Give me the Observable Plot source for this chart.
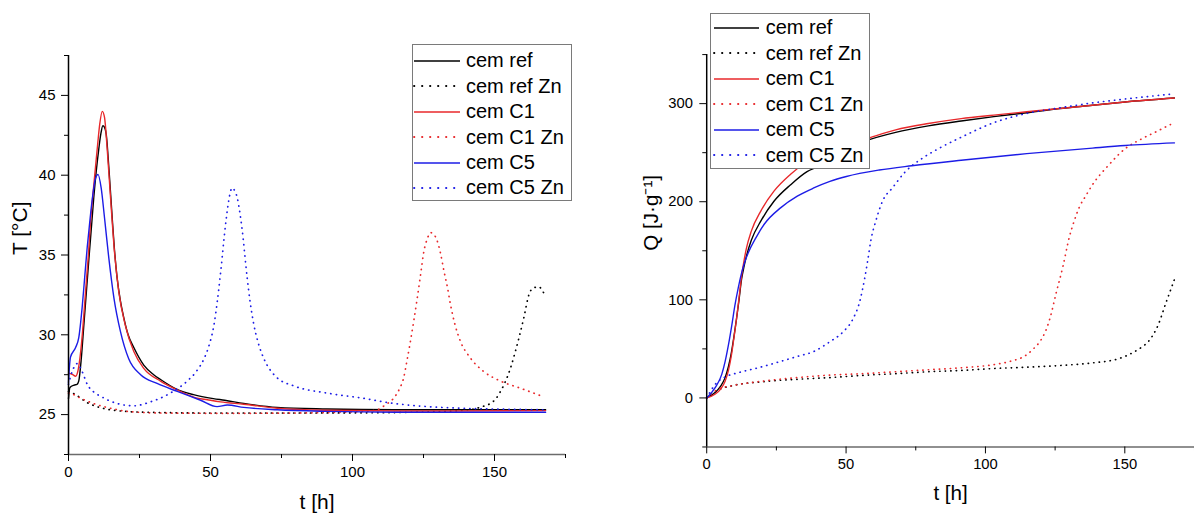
<!DOCTYPE html>
<html>
<head>
<meta charset="utf-8">
<script src="https://cdn.jsdelivr.net/npm/d3@7"></script>
<script src="https://cdn.jsdelivr.net/npm/@observablehq/plot@0.6"></script>
<style>
  html, body { margin: 0; padding: 0; background: #fff; overflow: hidden; }
  #wrap { position: relative; width: 1194px; height: 520px; overflow: hidden; background: #fff;
          font-family: 'Liberation Sans', Arial, sans-serif; }
  .panel { position: absolute; top: 0; }
  .legend { position: absolute; box-sizing: border-box; border: 1px solid #7a7a7a; background: #fff; }
  .legend .row { display: flex; align-items: center; font-size: 20px; color: #000; white-space: nowrap; }
  .legend svg { display: block; flex: none; }
</style>
</head>
<body>
<div id="wrap">
  <div class="panel" id="left" style="left:0"></div>
  <div class="panel" id="right" style="left:600px"></div>
</div>
<script>
// ---------- data ----------
const seriesNames = ["cem ref", "cem ref Zn", "cem C1", "cem C1 Zn", "cem C5", "cem C5 Zn"];
const seriesColors = ["#000000", "#000000", "#e8282b", "#e8282b", "#1c1ce6", "#1c1ce6"];
const seriesDotted = [false, true, false, true, false, true];

const xTitle = "t [h]";
const TTitle = "T [°C]";
const QTitle = "Q [J·g⁻¹]";

const tDomain = [0, 175];
const TDomain = [22.5, 47.5];
const QDomain = [-50, 350];
const xTicks = [0, 50, 100, 150];
const xMinor = [25, 75, 125, 175];
const TTicks = [25, 30, 35, 40, 45];
const TMinor = [22.5, 27.5, 32.5, 37.5, 42.5, 47.5];
const QTicks = [0, 100, 200, 300];
const QMinor = [-50, 50, 150, 250, 350];

// Temperature T [°C] vs t [h]  ([t, T])
const T_cemRef = [[0,26.0],[0.5,26.7],[2,26.85],[3,26.9],[3.6,27.1],[4.5,28.5],[5.4,30.6],[6.3,32.7],[7.2,34.8],[8.1,36.8],[8.9,38.6],[9.8,40.3],[10.7,41.7],[11.4,42.6],[12.1,43.1],[12.7,43.0],[13.3,42.55],[14.2,40.5],[15.4,37.3],[16.2,35.3],[17.1,33.6],[18.2,32.2],[19.5,31.05],[21,30.0],[23,29.2],[26.5,28.1],[30,27.5],[32.4,27.2],[38,26.6],[44,26.25],[51,26.0],[55,25.9],[61.7,25.7],[73.5,25.45],[91,25.35],[115,25.3],[140,25.3],[168,25.3]];
const T_cemRefZn = [[0,26.45],[2,26.3],[6.6,25.75],[10,25.5],[14.8,25.3],[20,25.2],[26.5,25.15],[50,25.1],[80,25.1],[110,25.12],[126,25.17],[138,25.25],[143.9,25.4],[146.5,25.55],[148.6,25.7],[150.5,26.0],[152.1,26.45],[153.9,27.1],[155.6,27.9],[157.1,28.8],[158.6,29.8],[160.3,31.05],[162.1,32.5],[163.8,32.95],[165.6,33.0],[167.4,32.6]];
const T_cemC1 = [[0,27.6],[1.5,27.5],[2.5,27.4],[3.4,27.8],[4.2,28.8],[5,30.3],[6,32.7],[7,35],[7.7,36.9],[8.6,38.8],[9.5,40.5],[10.3,42],[11,43.2],[11.9,44.0],[12.7,43.6],[13.6,41.7],[14.8,38.6],[16,35.6],[17.7,32.7],[20,30.6],[23,28.95],[26.5,27.9],[32.4,27.1],[38.3,26.55],[44.1,26.1],[50,25.9],[53.5,25.8],[61.7,25.65],[73.5,25.4],[91,25.27],[115,25.23],[138,25.23],[168,25.25]];
const T_cemC1Zn = [[0,26.35],[1.9,26.25],[4,26.05],[6.6,25.85],[9.5,25.65],[12.4,25.5],[16,25.35],[20.7,25.2],[32.4,25.1],[55.9,25.08],[79.3,25.1],[97,25.15],[104,25.2],[108.7,25.3],[111.5,25.6],[114.6,26.05],[116.5,26.6],[118,27.3],[119.2,28.4],[120.4,29.6],[121.6,30.9],[122.8,32.3],[124,33.8],[125.1,35.2],[126.3,36.0],[127.5,36.4],[128.6,36.3],[129.8,35.9],[131,35.1],[132.2,34.0],[133.4,33.0],[134.5,31.9],[136,30.7],[138,29.6],[141.5,28.55],[146.2,27.7],[152.1,27.1],[159.2,26.65],[166,26.2]];
const T_cemC5 = [[0,27.0],[0.3,27.9],[0.7,28.6],[2.5,29.2],[3.6,29.8],[4.8,31.7],[5.7,33.6],[6.6,35.5],[7.5,37.1],[8.3,38.4],[9.5,39.8],[10.4,40.05],[11.5,39.2],[12.7,37.3],[14.2,34.8],[16,32.3],[18.3,30.2],[21.2,28.5],[25.4,27.5],[31.2,26.95],[38.3,26.45],[46.5,25.9],[52.3,25.5],[55.9,25.6],[61.7,25.45],[73.5,25.3],[91,25.2],[115,25.15],[168,25.15]];
const T_cemC5Zn = [[0,26.9],[1.5,27.8],[3.1,28.2],[4.8,27.7],[6.6,26.9],[9,26.4],[11.3,26.15],[14,25.9],[17.1,25.7],[23,25.55],[28.9,25.8],[35.9,26.35],[41.8,27.1],[45,27.7],[47.7,28.5],[49.6,29.4],[51.2,30.6],[52.4,32.1],[53.5,33.8],[55.3,36.9],[56.4,38.4],[57.6,39.2],[58.6,39.0],[59.4,38.6],[60.3,37.7],[61.2,36.5],[62.9,33.6],[64,32],[65.3,30.6],[66.8,29.5],[68.8,28.5],[71,27.8],[73.5,27.3],[79.3,26.8],[91,26.35],[102.8,26.05],[114.6,25.7],[126.3,25.5],[138,25.4],[149.8,25.35],[168,25.3]];

// Heat Q [J/g] vs t [h]  ([t, Q])
const Q_cemRef = [[0,0],[3.1,5.7],[5,12],[6.6,20.7],[7.8,32],[8.9,47],[9.8,63],[10.7,80.7],[11.6,100],[12.5,120.7],[13.4,134],[14.2,144],[16,160.7],[19.5,180.7],[24.2,200.7],[30.1,217.3],[36,230.7],[40,236],[48,251],[57,262],[67.8,270.7],[79.5,277.3],[91.3,282.3],[103,286.7],[114.8,290.7],[126.6,295],[138.4,298.3],[150.1,301.7],[167.8,305.7]];
const Q_cemRefZn = [[0,0],[4,8],[8.9,12.3],[20.7,16.7],[32.5,19],[44.2,20.7],[56,23],[67.8,24.7],[79.5,26.7],[91.3,28],[103.1,30],[114.8,31.3],[126.6,33],[138.4,35.7],[147.8,40],[153.6,47.3],[156.2,52],[158.4,57.3],[160.3,65],[161.9,74],[164.8,97.3],[167.8,120.7]];
const Q_cemC1 = [[0,0],[3.1,4],[5,9],[6.6,17],[7.8,28],[8.9,44],[9.8,62],[10.7,80.7],[11.6,102],[12.5,124],[13.4,140],[14.2,152],[16,170],[19.5,191],[24.2,211],[30.1,228],[36,241],[45,254],[57,264],[67.8,273.3],[79.5,279.7],[91.3,284.7],[103,288.3],[114.8,291.7],[126.6,295],[138.4,298.3],[150.1,301.7],[167.8,305.7]];
const Q_cemC1Zn = [[0,0],[4.2,9],[8.9,12.3],[20.7,17.3],[32.5,20.7],[44.2,23.3],[56,24.7],[67.8,26.7],[79.5,28.7],[91.3,30.7],[103.1,34],[108.9,37.3],[114.8,44],[117.2,50],[119.5,57.3],[121.4,67],[123.1,80.7],[125.4,107.3],[127.8,134],[130.1,164],[131.8,180],[133.6,194],[136,206],[138.4,217.3],[144.2,237.3],[150.1,254],[156,264],[161.9,272.3],[167.8,280.7]];
const Q_cemC5 = [[0,0],[3.1,10.7],[5.4,24],[6.6,37],[7.8,54],[9,74],[10.1,94],[11.3,112],[12.5,127.3],[13.6,138],[14.8,147.3],[17.8,164],[20.7,177.3],[26.6,194],[32.5,205.7],[38.4,214],[44.2,220.7],[50.1,225.7],[61.9,232.3],[73.6,236.7],[91.3,242.3],[114.8,249],[138.4,254.7],[150.1,257.3],[167.8,260]];
const Q_cemC5Zn = [[0,0],[3.1,14],[6.6,21.3],[11.3,25.7],[18.4,30.7],[26.6,37.3],[32.5,42.3],[38.4,47.3],[44.2,57.3],[48.9,67.3],[52.5,80.7],[54.8,97.3],[56.6,120.7],[57.8,140.7],[58.9,160.7],[60.7,180.7],[63.1,200.7],[66.6,214],[71.3,230.7],[77.2,244],[83.1,254],[91.3,265.7],[103.1,280.7],[114.8,290],[126.6,295.7],[138.4,300.7],[150.1,304.7],[167.8,310]];

const TData = [T_cemRef, T_cemRefZn, T_cemC1, T_cemC1Zn, T_cemC5, T_cemC5Zn];
const QData = [Q_cemRef, Q_cemRefZn, Q_cemC1, Q_cemC1Zn, Q_cemC5, Q_cemC5Zn];

// ---------- drawing ----------
const DOT = "0.3,5.3";
const style = {fontFamily: "'Liberation Sans', Arial, sans-serif", fontSize: "15px", background: "white", color: "black", overflow: "visible"};

function lineMarks(datasets) {
  return datasets.map((d, i) => Plot.line(d, {
    x: p => p[0], y: p => p[1],
    stroke: seriesColors[i],
    strokeWidth: seriesDotted[i] ? 1.7 : 1.4,
    strokeLinecap: "round",
    strokeDasharray: seriesDotted[i] ? DOT : null,
    curve: "monotone-x"
  }));
}

function panel({width, marginLeft, marginRight, yDomain, yTicks, yMinor, yTitle, yTitleDx, yTickPad, datasets}) {
  return Plot.plot({
    width, height: 520,
    marginLeft, marginRight, marginTop: 55, marginBottom: 66,
    x: {domain: tDomain},
    y: {domain: yDomain},
    style,
    marks: [
      Plot.ruleY([yDomain[0]], {stroke: "#6b6b6b", strokeWidth: 1.5}),
      Plot.axisX({ticks: xTicks, tickSize: 7, tickPadding: 5, label: null}),
      Plot.axisX({ticks: xMinor, tickSize: 4, tickFormat: () => "", label: null}),
      Plot.axisY({ticks: yTicks, tickSize: 7, tickPadding: yTickPad, label: null}),
      Plot.axisY({ticks: yMinor, tickSize: 4, tickFormat: () => "", label: null}),
      ...lineMarks(datasets),
      Plot.ruleX([tDomain[0]], {stroke: "#000", strokeWidth: 1.5}),
      Plot.text([xTitle], {frameAnchor: "bottom", dy: 54, fontSize: 21}),
      Plot.text([yTitle], {frameAnchor: "left", rotate: -90, dx: yTitleDx, fontSize: 21})
    ]
  });
}

document.getElementById("left").appendChild(panel({
  width: 600, marginLeft: 68, marginRight: 35,
  yDomain: TDomain, yTicks: TTicks, yMinor: TMinor, yTitle: TTitle, yTitleDx: -48, yTickPad: 6,
  datasets: TData
}));
document.getElementById("right").appendChild(panel({
  width: 604, marginLeft: 108, marginRight: 0,
  yDomain: QDomain, yTicks: QTicks, yMinor: QMinor, yTitle: QTitle, yTitleDx: -56, yTickPad: 7,
  datasets: QData
}));

// ---------- legends ----------
function legend({left, top, width, height, padTop, padLeft, rowH, sampleW, gap}) {
  const box = document.createElement("div");
  box.className = "legend";
  Object.assign(box.style, {left: left + "px", top: top + "px", width: width + "px", height: height + "px", paddingTop: padTop + "px", paddingLeft: padLeft + "px"});
  seriesNames.forEach((name, i) => {
    const row = document.createElement("div");
    row.className = "row";
    row.style.height = rowH + "px";
    const ns = "http://www.w3.org/2000/svg";
    const svg = document.createElementNS(ns, "svg");
    svg.setAttribute("width", sampleW);
    svg.setAttribute("height", 4);
    const ln = document.createElementNS(ns, "line");
    ln.setAttribute("x1", 1); ln.setAttribute("x2", sampleW);
    ln.setAttribute("y1", 2); ln.setAttribute("y2", 2);
    ln.setAttribute("stroke", seriesColors[i]);
    if (seriesDotted[i]) {
      ln.setAttribute("stroke-width", 1.8);
      ln.setAttribute("stroke-linecap", "round");
      ln.setAttribute("stroke-dasharray", "0.4,7.6");
    } else {
      ln.setAttribute("stroke-width", 1.6);
    }
    svg.appendChild(ln);
    svg.style.marginRight = gap + "px";
    const span = document.createElement("span");
    span.textContent = name;
    row.appendChild(svg);
    row.appendChild(span);
    box.appendChild(row);
  });
  document.getElementById("wrap").appendChild(box);
}
legend({left: 412, top: 44, width: 160, height: 157, padTop: 3.3, padLeft: 0, rowH: 25.4, sampleW: 47, gap: 6});
legend({left: 710, top: 13, width: 160, height: 156, padTop: 1.2, padLeft: 2, rowH: 25.5, sampleW: 46, gap: 6.7});
</script>
</body>
</html>
